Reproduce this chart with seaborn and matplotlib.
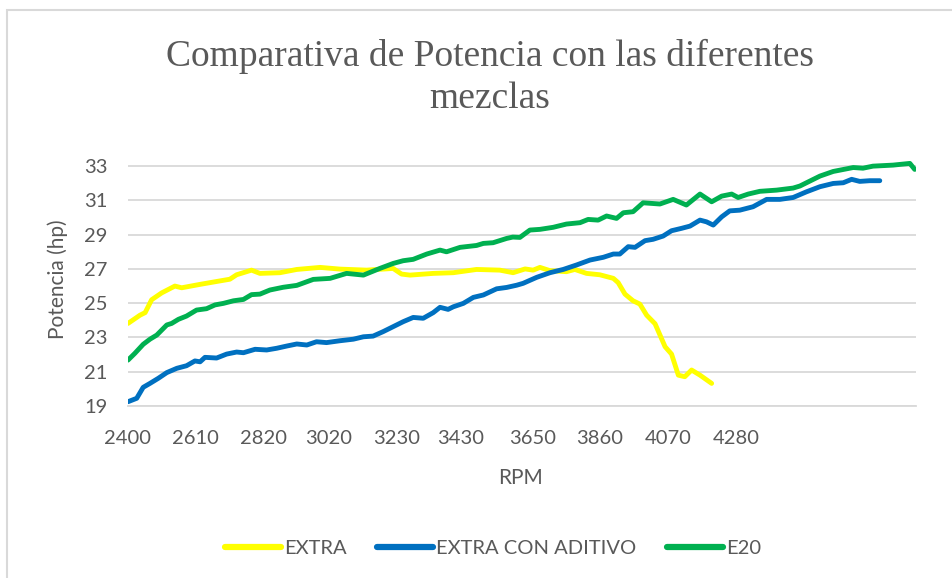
import numpy as np
import pandas as pd
import matplotlib
matplotlib.use("Agg")
import matplotlib.pyplot as plt
import seaborn as sns
from matplotlib.patches import Rectangle

# ---------------- data ----------------
series_names = ["EXTRA", "EXTRA CON ADITIVO", "E20"]
series_colors = ["#FFFF00", "#0070C0", "#00B050"]

extra_rpm = [2400, 2437, 2453, 2473, 2504, 2545, 2566, 2623, 2684, 2715, 2736, 2782, 2808,
             2870, 2922, 2994, 3056, 3138, 3220, 3246, 3272, 3344, 3406, 3478, 3550, 3591,
             3628, 3653, 3674, 3705, 3756, 3782, 3818, 3859, 3901, 3916, 3937, 3962, 3983,
             4004, 4030, 4061, 4081, 4102, 4122, 4143, 4169, 4205]
extra_hp = [23.82, 24.3, 24.45, 25.2, 25.6, 26.0, 25.9, 26.1, 26.3, 26.4, 26.66, 26.93, 26.74,
            26.78, 26.97, 27.09, 26.99, 26.93, 27.03, 26.7, 26.64, 26.74, 26.78, 26.97, 26.93, 26.78,
            27.0, 26.93, 27.09, 26.9, 26.84, 26.97, 26.74, 26.66, 26.45, 26.2, 25.53, 25.14, 24.95,
            24.3, 23.8, 22.46, 22.03, 20.8, 20.71, 21.1, 20.8, 20.32]

aditivo_rpm = [2400, 2427, 2447, 2468, 2494, 2520, 2551, 2581, 2607, 2623, 2638, 2674, 2705,
               2736, 2757, 2793, 2829, 2860, 2891, 2922, 2953, 2983, 3014, 3056, 3097, 3128,
               3158, 3189, 3220, 3251, 3282, 3313, 3344, 3365, 3390, 3406, 3437, 3468, 3499,
               3540, 3571, 3602, 3622, 3664, 3705, 3746, 3787, 3829, 3870, 3901, 3921, 3947,
               3968, 3999, 4024, 4055, 4081, 4112, 4138, 4169, 4189, 4210, 4236, 4261, 4292,
               4333, 4375, 4416, 4457, 4498, 4540, 4581, 4612, 4638, 4663, 4694, 4725]
aditivo_hp = [19.25, 19.45, 20.09, 20.32, 20.62, 20.95, 21.2, 21.35, 21.63, 21.58, 21.84, 21.8, 22.03,
              22.15, 22.11, 22.31, 22.27, 22.37, 22.5, 22.62, 22.56, 22.75, 22.7, 22.81, 22.9, 23.04,
              23.08, 23.34, 23.63, 23.92, 24.17, 24.12, 24.45, 24.76, 24.64, 24.79, 24.99, 25.34, 25.48,
              25.84, 25.92, 26.05, 26.16, 26.51, 26.78, 26.97, 27.23, 27.52, 27.68, 27.87, 27.87, 28.3,
              28.26, 28.65, 28.73, 28.92, 29.23, 29.37, 29.5, 29.85, 29.75, 29.56, 30.04, 30.39, 30.43,
              30.63, 31.06, 31.06, 31.17, 31.5, 31.8, 31.99, 32.03, 32.23, 32.11, 32.15, 32.15]

e20_rpm = [2400, 2421, 2447, 2468, 2489, 2520, 2535, 2556, 2581, 2612, 2643, 2669, 2695,
           2726, 2757, 2782, 2808, 2839, 2880, 2922, 2973, 3025, 3076, 3128, 3179, 3220,
           3251, 3282, 3324, 3365, 3385, 3427, 3478, 3499, 3529, 3571, 3590, 3612, 3643,
           3674, 3715, 3756, 3798, 3823, 3854, 3880, 3911, 3932, 3962, 3993, 4045, 4086,
           4127, 4169, 4205, 4236, 4267, 4287, 4318, 4354, 4406, 4457, 4478, 4540, 4581,
           4643, 4673, 4704, 4766, 4818, 4833]
e20_hp = [21.68, 22.07, 22.6, 22.9, 23.14, 23.73, 23.82, 24.06, 24.25, 24.6, 24.68, 24.9, 24.99,
          25.14, 25.22, 25.5, 25.53, 25.77, 25.93, 26.04, 26.39, 26.45, 26.74, 26.64, 27.03, 27.32,
          27.48, 27.56, 27.87, 28.1, 28.0, 28.26, 28.37, 28.49, 28.53, 28.78, 28.86, 28.84, 29.27,
          29.31, 29.43, 29.62, 29.7, 29.89, 29.85, 30.09, 29.95, 30.28, 30.34, 30.86, 30.79, 31.06,
          30.73, 31.37, 30.92, 31.25, 31.37, 31.17, 31.37, 31.53, 31.6, 31.72, 31.84, 32.42, 32.69,
          32.92, 32.88, 33.0, 33.06, 33.16, 32.81]

x_tick_labels = [2400, 2610, 2820, 3020, 3230, 3430, 3650, 3860, 4070, 4280]
y_ticks = [19, 21, 23, 25, 27, 29, 31, 33]

title_lines = ["Comparativa de Potencia con las diferentes", "mezclas"]
x_label = "RPM"
y_label = "Potencia (hp)"

# ---------------- build long table ----------------
frames = []
for name, rpm, hp in zip(series_names,
                         [extra_rpm, aditivo_rpm, e20_rpm],
                         [extra_hp, aditivo_hp, e20_hp]):
    frames.append(pd.DataFrame({"RPM": rpm, "Potencia": hp, "Serie": name}))
df = pd.concat(frames, ignore_index=True)

# ---------------- style ----------------
sns.set_theme(style="white")
plt.rcParams["font.family"] = ["Lato", "DejaVu Sans"]
text_gray = "#595959"
grid_gray = "#D9D9D9"

W, H = 953, 578
fig = plt.figure(figsize=(W / 100, H / 100), dpi=100)
fig.patch.set_facecolor("white")

left, right, bottom, top = 128, 916, 406, 161
ax = fig.add_axes([left / W, 1 - bottom / H, (right - left) / W, (bottom - top) / H])

sns.lineplot(data=df, x="RPM", y="Potencia", hue="Serie", hue_order=series_names,
             palette=dict(zip(series_names, series_colors)), sort=False, estimator=None,
             linewidth=3.5, ax=ax, legend=True)
for ln in ax.lines:
    ln.set_solid_capstyle("round")
    ln.set_solid_joinstyle("round")

ax.set_xlim(2400, 4837)
ax.set_ylim(19, 33.3)
ax.set_xticks(x_tick_labels)
ax.set_xticklabels([str(v) for v in x_tick_labels])
ax.set_yticks(y_ticks)
ax.set_yticklabels([str(v) for v in y_ticks])
ax.tick_params(axis="both", length=0, labelsize=14.5, colors=text_gray)
ax.tick_params(axis="x", pad=17)
ax.tick_params(axis="y", pad=15)

ax.grid(axis="y", color=grid_gray, linewidth=1.3)
ax.grid(axis="x", visible=False)
ax.set_axisbelow(True)
for s in ["top", "right", "left"]:
    ax.spines[s].set_visible(False)
ax.spines["bottom"].set_color(grid_gray)
ax.spines["bottom"].set_linewidth(1.3)

ax.set_xlabel(x_label, fontsize=15, color=text_gray, va="center")
ax.set_ylabel(y_label, fontsize=15, color=text_gray, va="center")
ax.xaxis.set_label_coords((521 - left) / (right - left), -(478 - bottom) / (bottom - top))
ax.yaxis.set_label_coords((58 - left) / (right - left), (bottom - 279) / (bottom - top))

# title (two lines, centred)
for line, base_y in zip(title_lines, [66, 108]):
    fig.text(490 / W, 1 - base_y / H, line, ha="center", va="baseline",
             fontsize=27, color=text_gray, family=["Liberation Serif", "DejaVu Serif"])

# legend
handles, labels = ax.get_legend_handles_labels()
if ax.legend_:
    ax.legend_.remove()
leg = fig.legend(handles, labels, loc="center", bbox_to_anchor=(493 / W, 1 - 548 / H),
                 ncol=3, frameon=False, fontsize=14.5, handlelength=2.8, handletextpad=0.15,
                 columnspacing=1.5)
for t in leg.get_texts():
    t.set_color(text_gray)
for h in leg.legend_handles:
    h.set_linewidth(4.5)
    h.set_solid_capstyle("round")

# chart border
fig.add_artist(Rectangle((7 / W, -0.05), 1.2, (1 - 10 / H) + 0.05, transform=fig.transFigure,
                         fill=False, edgecolor="#D9D9D9", linewidth=1.5))

fig.savefig("out.png", dpi=100)
